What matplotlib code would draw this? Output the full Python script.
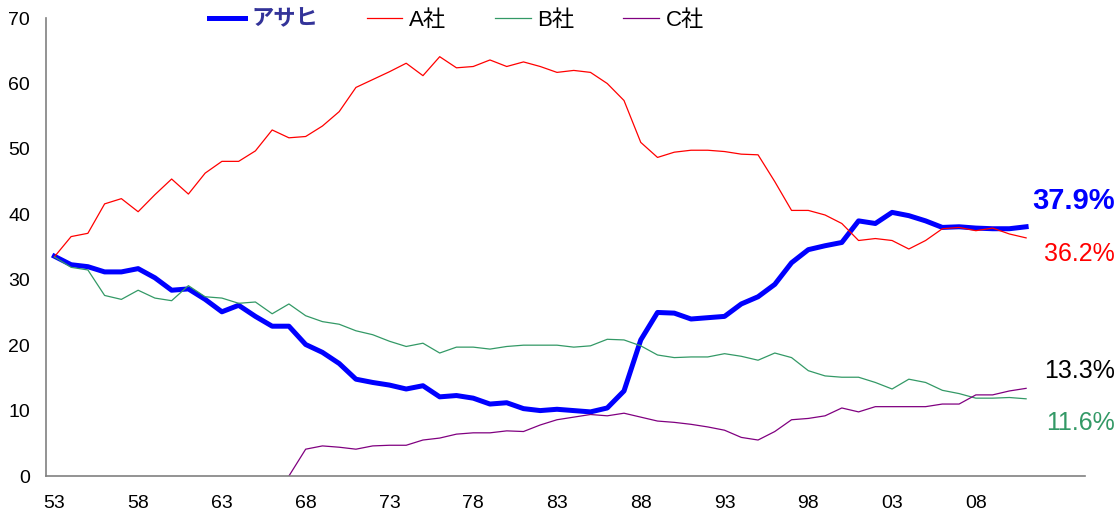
import numpy as np
import matplotlib
matplotlib.use('Agg')
import matplotlib.pyplot as plt

plt.rcParams['font.family'] = ['Liberation Sans', 'Noto Sans CJK JP', 'DejaVu Sans']

years = np.arange(1953, 2012)

asahi = [33.6, 32.3, 32.0, 31.2, 31.2, 31.7, 30.3, 28.4, 28.6, 27.0,
         25.1, 26.1, 24.4, 22.9, 22.9, 20.1, 18.9, 17.2, 14.8, 14.3,
         13.9, 13.3, 13.8, 12.1, 12.3, 11.9, 11.0, 11.2, 10.3, 10.0,
         10.2, 10.0, 9.8, 10.4, 13.0, 20.8, 25.0, 24.9, 24.0, 24.2,
         24.4, 26.3, 27.4, 29.3, 32.6, 34.6, 35.2, 35.7, 39.0, 38.6,
         40.3, 39.8, 39.0, 38.0, 38.1, 37.9, 37.8, 37.8, 38.1]
company_a = [33.5, 36.6, 37.1, 41.6, 42.4, 40.4, 43.0, 45.4, 43.1, 46.3,
             48.1, 48.1, 49.7, 52.9, 51.7, 51.9, 53.5, 55.7, 59.4, 60.6,
             61.8, 63.1, 61.2, 64.1, 62.4, 62.6, 63.6, 62.6, 63.3, 62.6,
             61.7, 62.0, 61.7, 60.0, 57.4, 51.0, 48.7, 49.5, 49.8, 49.8,
             49.6, 49.2, 49.1, 45.0, 40.6, 40.6, 39.9, 38.6, 36.0, 36.3,
             36.0, 34.7, 36.0, 37.8, 38.0, 37.5, 37.9, 37.0, 36.4]
company_b = [33.5, 31.9, 31.5, 27.6, 27.0, 28.4, 27.2, 26.8, 29.1, 27.4,
             27.2, 26.4, 26.6, 24.8, 26.3, 24.5, 23.6, 23.2, 22.2, 21.6,
             20.6, 19.8, 20.3, 18.8, 19.7, 19.7, 19.4, 19.8, 20.0, 20.0,
             20.0, 19.7, 19.9, 20.9, 20.8, 19.9, 18.5, 18.1, 18.2, 18.2,
             18.7, 18.3, 17.7, 18.8, 18.1, 16.1, 15.3, 15.1, 15.1, 14.3,
             13.3, 14.8, 14.3, 13.1, 12.6, 11.9, 11.9, 12.0, 11.8]
# C社 starts in 1967
company_c = [np.nan] * 14 + [0.0, 4.1, 4.6, 4.4, 4.1, 4.6,
             4.7, 4.7, 5.5, 5.8, 6.4, 6.6, 6.6, 6.9, 6.8, 7.8,
             8.6, 9.0, 9.4, 9.2, 9.6, 9.0, 8.4, 8.2, 7.9, 7.5,
             7.0, 5.9, 5.5, 6.8, 8.6, 8.8, 9.2, 10.4, 9.8, 10.6,
             10.6, 10.6, 10.6, 11.0, 11.0, 12.4, 12.4, 13.0, 13.4]

names = ['アサヒ', 'A社', 'B社', 'C社']
end_labels = ['37.9%', '36.2%', '13.3%', '11.6%']
end_label_y = [42.0, 34.0, 16.1, 8.1]

tick_years = np.arange(1953, 2012, 5)

blue = '#0000FF'
red = '#FF0000'
green = '#339966'
purple = '#800080'

fig = plt.figure(figsize=(11.16, 5.17), dpi=100)
ax = fig.add_axes([0.0412, 0.0793, 0.9308, 0.8857])

ax.plot(years, asahi, color=blue, lw=3.6, solid_joinstyle='round', label=names[0])
ax.plot(years, company_a, color=red, lw=0.9, label=names[1])
ax.plot(years, company_b, color=green, lw=0.9, label=names[2])
ax.plot(years, company_c, color=purple, lw=0.9, label=names[3])

ax.set_xlim(1952.5, 2014.5)
ax.set_ylim(0, 70)
ax.set_yticks(np.arange(0, 71, 10))
ax.set_xticks(tick_years)
ax.set_xticklabels(['%02d' % (y % 100) for y in tick_years])

for s in ['top', 'right']:
    ax.spines[s].set_visible(False)
for s in ['left', 'bottom']:
    ax.spines[s].set_color('#808080')
    ax.spines[s].set_linewidth(1.2)
ax.tick_params(axis='both', length=0, labelsize=14, colors='black')
ax.tick_params(axis='y', pad=11.5)
ax.tick_params(axis='x', pad=13.5)

leg = ax.legend(loc='center', bbox_to_anchor=(0.409, 0.961),
                bbox_transform=fig.transFigure, ncol=4, frameon=False,
                handlelength=1.6, handletextpad=0.3, columnspacing=2.2,
                prop={'family': ['Liberation Sans', 'Noto Sans CJK JP'], 'size': 16})
t0 = leg.get_texts()[0]
t0.set_color('#333399')
t0.set_fontweight('bold')

narrow = ['Liberation Sans Narrow', 'Liberation Sans']
label_colors = [blue, red, 'black', green]
label_sizes = [21, 18, 18, 18]
label_weights = ['bold', 'normal', 'normal', 'normal']
for txt, yv, c, sz, w in zip(end_labels, end_label_y, label_colors, label_sizes, label_weights):
    ax.text(2016.3, yv, txt, color=c, fontsize=sz, fontweight=w, family=narrow,
            ha='right', va='center', clip_on=False)

fig.savefig('out.png', dpi=100)
